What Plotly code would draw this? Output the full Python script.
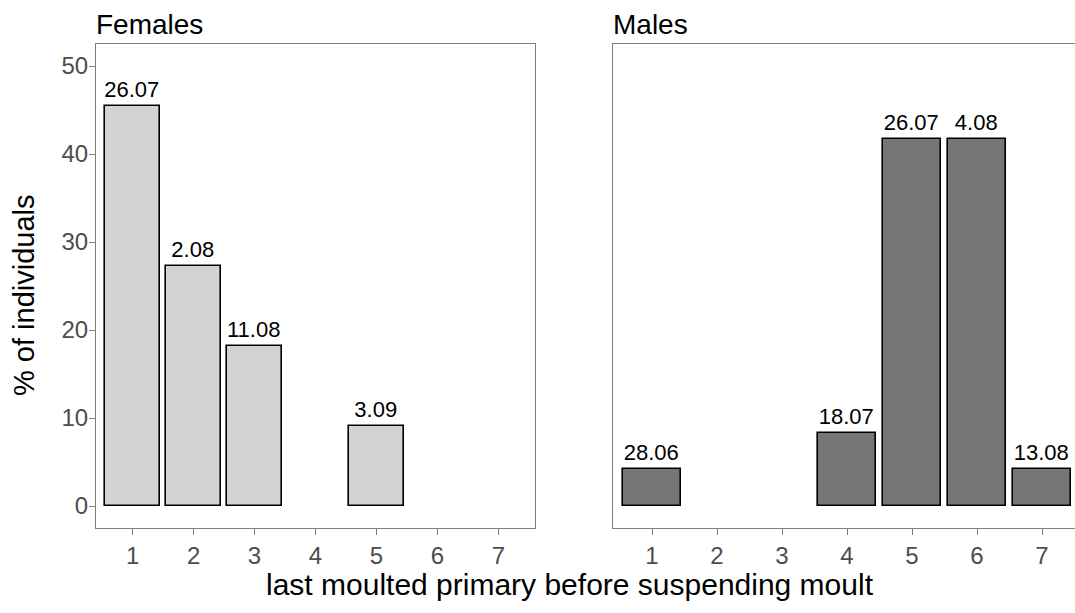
import plotly.graph_objects as go

# Percentage of birds by last moulted primary before suspending moult
female_primary = [1, 2, 3, 5]
female_pct = [45.45, 27.27, 18.18, 9.09]
female_dates = ["26.07", "2.08", "11.08", "3.09"]

male_primary = [1, 4, 5, 6, 7]
male_pct = [4.17, 8.33, 41.67, 41.67, 4.17]
male_dates = ["28.06", "18.07", "26.07", "4.08", "13.08"]

tick_vals = [1, 2, 3, 4, 5, 6, 7]
y_ticks = [0, 10, 20, 30, 40, 50]

FONT = "Liberation Sans, Arial, sans-serif"
BORDER = "#7f7f7f"
TICK_COL = "#4d4d4d"

fig = go.Figure()

bar_common = dict(
    width=0.9, textposition="outside", cliponaxis=False, constraintext="none",
    textfont=dict(family=FONT, size=22, color="black"), showlegend=False,
)
fig.add_trace(go.Bar(
    x=female_primary, y=female_pct, text=female_dates,
    marker=dict(color="#d3d3d3", line=dict(color="black", width=1.6)),
    xaxis="x", yaxis="y", **bar_common,
))
fig.add_trace(go.Bar(
    x=male_primary, y=male_pct, text=male_dates,
    marker=dict(color="#767676", line=dict(color="black", width=1.6)),
    xaxis="x2", yaxis="y2", **bar_common,
))

W, H = 1075, 613
L, R, T, B = 96, 0, 44, 85
pw = W - L - R
ph = H - T - B

# left panel spans 96..535 px, right panel starts at 613 px and runs off the page edge
x1_end = (535 - L) / pw
x2_start = (613 - L) / pw
x2_right = 0.4 + (W - 613) / 65.0

common_x = dict(
    tickmode="array", tickvals=tick_vals,
    ticks="outside", ticklen=6, tickwidth=1, tickcolor=BORDER,
    tickfont=dict(family=FONT, size=24, color=TICK_COL),
    showgrid=False, zeroline=False,
    showline=True, linecolor=BORDER, linewidth=1.2, mirror=True,
)

fig.update_layout(
    width=W, height=H,
    margin=dict(l=L, r=R, t=T, b=B),
    paper_bgcolor="white", plot_bgcolor="white",
    font=dict(family=FONT),
    bargap=0,
    xaxis=dict(domain=[0, x1_end], range=[0.4, 7.6], anchor="y", **common_x),
    xaxis2=dict(domain=[x2_start, 1], range=[0.4, x2_right], anchor="y2", **common_x),
    yaxis=dict(
        range=[-2.5, 52.5], tickmode="array", tickvals=y_ticks,
        ticks="outside", ticklen=6, tickwidth=1, tickcolor=BORDER,
        tickfont=dict(family=FONT, size=24, color=TICK_COL),
        ticklabelstandoff=-4,
        showgrid=False, zeroline=False,
        showline=True, linecolor=BORDER, linewidth=1.2, mirror=True,
        anchor="x",
    ),
    yaxis2=dict(
        range=[-2.5, 52.5], showticklabels=False, ticks="",
        showgrid=False, zeroline=False,
        showline=True, linecolor=BORDER, linewidth=1.2, mirror=False,
        anchor="x2",
    ),
    annotations=[
        dict(text="Females", x=0, y=1, xref="paper", yref="paper",
             xanchor="left", yanchor="bottom", yshift=2, xshift=-2, showarrow=False,
             font=dict(family=FONT, size=28, color="black")),
        dict(text="Males", x=x2_start, y=1, xref="paper", yref="paper",
             xanchor="left", yanchor="bottom", yshift=2, xshift=-2, showarrow=False,
             font=dict(family=FONT, size=28, color="black")),
        dict(text="last moulted primary before suspending moult",
             x=(570 - L) / pw, y=(H - B - 584) / ph, xref="paper", yref="paper",
             xanchor="center", yanchor="middle", showarrow=False,
             font=dict(family=FONT, size=30, color="black")),
        dict(text="% of individuals",
             x=(24 - L) / pw, y=(H - B - 295) / ph, xref="paper", yref="paper",
             xanchor="center", yanchor="middle", showarrow=False,
             textangle=-90,
             font=dict(family=FONT, size=29, color="black")),
    ],
)

fig.write_html("out.html")
